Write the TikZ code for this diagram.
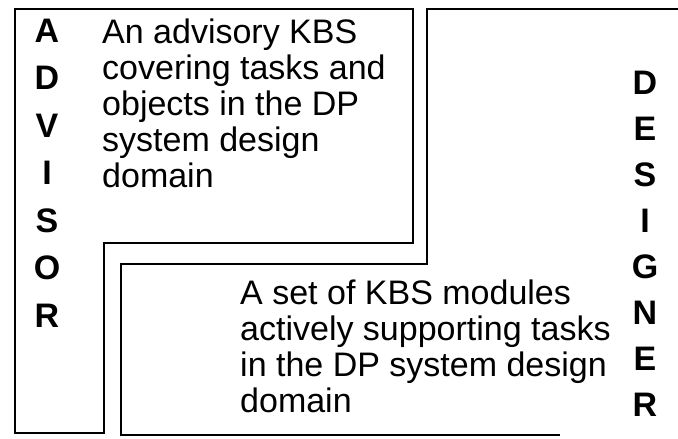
\documentclass[tikz,border=0pt]{standalone}
\usepackage{fontspec}
\setmainfont{Liberation Sans}
\usetikzlibrary{positioning}
\tikzset{
  lshape/.style={draw=black, line width=2.6pt, line join=miter},
  blurb/.style={align=left, inner sep=0pt, anchor=north west, font=\fontsize{34}{36}\selectfont},
  spine/.style={align=center, inner sep=0pt, anchor=north, font=\bfseries\fontsize{34}{47.5}\selectfont}
}

\begin{document}
\begin{tikzpicture}[x=1pt,y=-1pt]
  \useasboundingbox (0,0) rectangle (678,439);
  % advisor L
  \draw[lshape] (15,9) -- (413,9) -- (413,243) -- (104,243) -- (104,433) -- (15,433) -- cycle;
  % designer L (open on the right)
  \draw[lshape] (678,9) -- (427,9) -- (427,264) -- (121,264) -- (121,435) -- (560,435);
  \node[spine] (advisor) at (47,18.6) {A\\D\\V\\I\\S\\O\\R};
  \node[spine, font=\bfseries\fontsize{34}{46}\selectfont] (designer) at (645,70.6) {D\\E\\S\\I\\G\\N\\E\\R};
  \node[blurb] (advtext) at (102,18.2) {An advisory KBS\\covering tasks and\\objects in the DP\\system design\\domain};
  \node[blurb] (destext) at (240,279.2) {A set of KBS modules\\actively supporting tasks\\in the DP system design\\domain};
\end{tikzpicture}
\end{document}
